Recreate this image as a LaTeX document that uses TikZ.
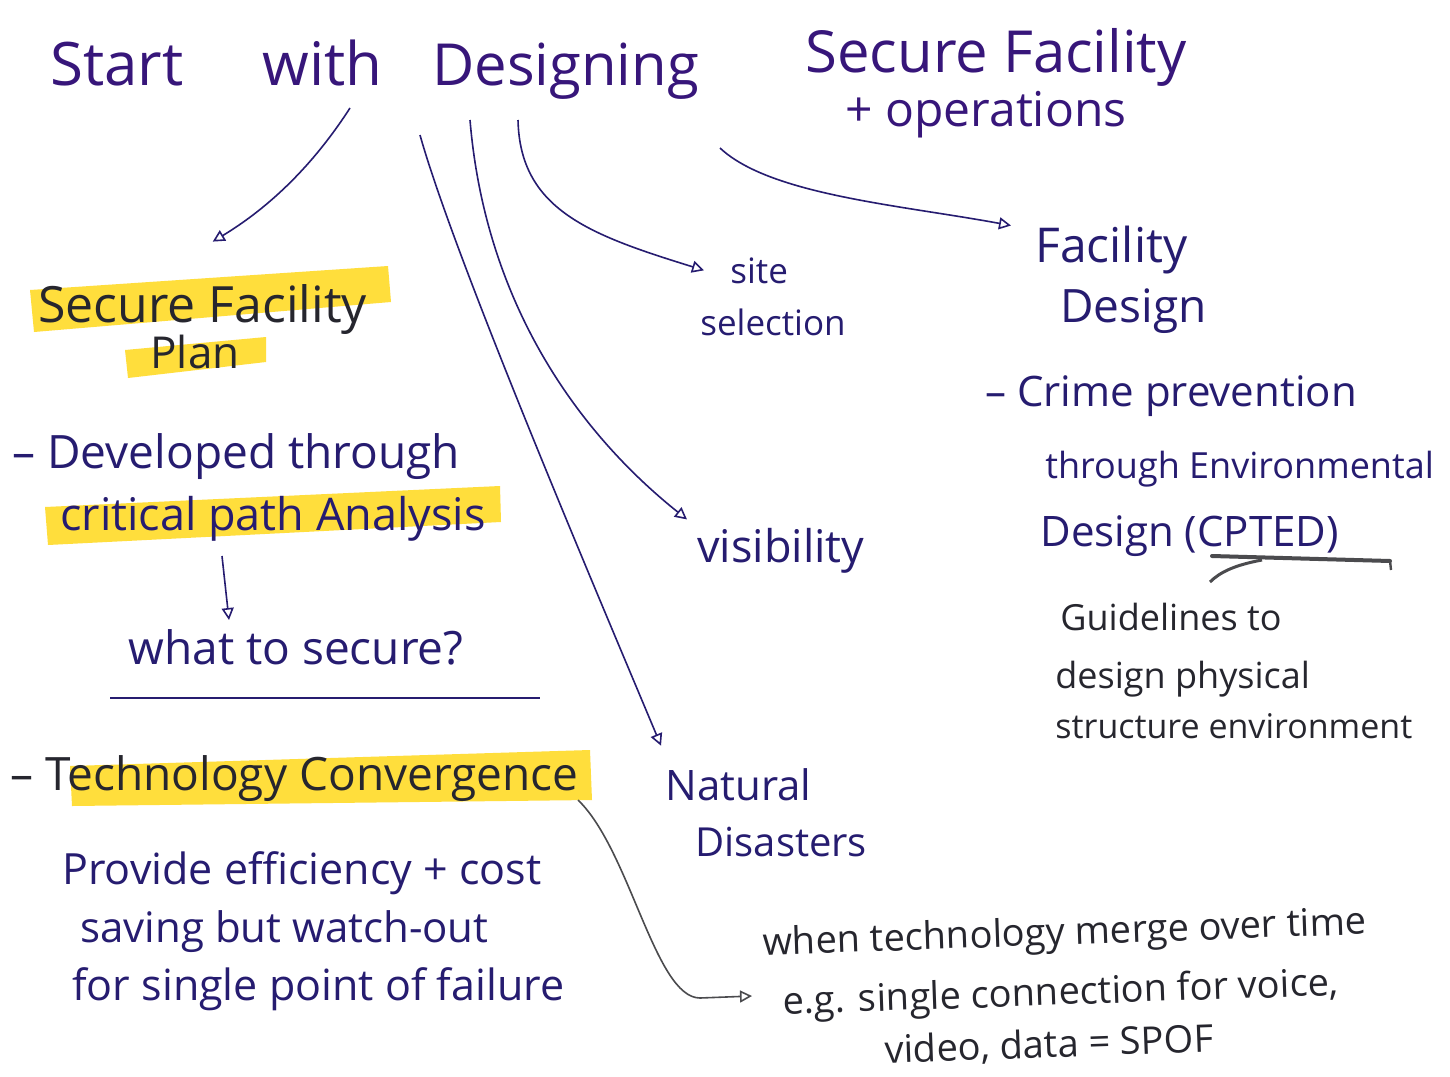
\documentclass[tikz,border=0pt]{standalone}
\usepackage{fontspec}
\setmainfont{Open Sans}
\usetikzlibrary{arrows.meta}

\definecolor{ink}{RGB}{38,28,112}
\definecolor{inkp}{RGB}{55,22,122}
\definecolor{pencil}{RGB}{38,38,46}
\definecolor{hl}{RGB}{255,222,60}
\definecolor{graypen}{RGB}{75,75,78}

\newcommand{\fsz}[1]{\fontsize{#1}{#1}\selectfont}

\tikzset{
  txt/.style={anchor=base west, inner sep=0pt, text=ink},
  dark/.style={txt, text=pencil},
  conn/.style={draw=ink, line width=0.8pt, -{Triangle[open,length=6pt,width=6pt]}},
  grayconn/.style={conn, draw=graypen},
  marker/.style={fill=hl, draw=none},
}

\begin{document}
\begin{tikzpicture}[x=0.5pt, y=-0.5pt]
  % page
  \fill[white] (0,0) rectangle (1450,1076);
  \useasboundingbox (0,0) rectangle (1450,1076);

  % highlighter strokes
  \fill[marker] (30,290) -- (388,266) -- (391,302) -- (34,332) -- cycle;
  \fill[marker] (125,350) -- (266,337) -- (266,362) -- (128,378) -- cycle;
  \fill[marker] (45,507) -- (500,486) -- (501,522) -- (48,545) -- cycle;
  \fill[marker] (70,766) -- (590,750) -- (592,800) -- (72,806) -- cycle;

  % heading
  \node[txt, text=inkp, font=\fsz{30}] (start) at (50,85) {Start};
  \node[txt, text=inkp, font=\fsz{30}] (with) at (262,85) {with};
  \node[txt, text=inkp, font=\fsz{29}] (design) at (432,85) {Designing};
  \node[txt, text=inkp, font=\fsz{29}] (sf) at (805,72) {Secure Facility};
  \node[txt, text=inkp, font=\fsz{24}] (ops) at (845,126) {+ operations};

  % left column
  \node[dark, font=\fsz{25}] (sfp1) at (38,322) {Secure Facility};
  \node[dark, font=\fsz{22}] (sfp2) at (150,368) {Plan};
  \node[txt, font=\fsz{23}] (dev) at (12,468) {– Developed through};
  \node[txt, font=\fsz{22.5}] (crit) at (60,530) {critical path Analysis};
  \node[txt, font=\fsz{23}] (what) at (128,664) {what to secure?};
  \node[dark, font=\fsz{23}] (tech) at (10,790) {– Technology Convergence};
  \node[txt, font=\fsz{21.5}] (prov1) at (62,884) {Provide efficiency + cost};
  \node[txt, font=\fsz{21}] (prov2) at (80,942) {saving but watch-out};
  \node[txt, font=\fsz{21.5}] (prov3) at (72,1000) {for single point of failure};

  % middle column
  \node[txt, font=\fsz{17.5}] (site1) at (730,283) {site};
  \node[txt, font=\fsz{17.5}] (site2) at (700,335) {selection};
  \node[txt, font=\fsz{22.5}] (vis) at (697,562) {visibility};
  \node[txt, font=\fsz{21}] (nat1) at (665,800) {Natural};
  \node[txt, font=\fsz{20}] (nat2) at (695,856) {Disasters};

  % right column
  \node[txt, font=\fsz{24}] (fac1) at (1035,262) {Facility};
  \node[txt, font=\fsz{23}] (fac2) at (1060,322) {Design};
  \node[txt, font=\fsz{21}] (cp1) at (985,406) {– Crime prevention};
  \node[txt, font=\fsz{18}] (cp2) at (1045,478) {through Environmental};
  \node[txt, font=\fsz{21}] (cp3) at (1040,546) {Design (CPTED)};
  \node[dark, font=\fsz{18}] (gd1) at (1060,630) {Guidelines to};
  \node[dark, font=\fsz{18}] (gd2) at (1055,688) {design physical};
  \node[dark, font=\fsz{17}] (gd3) at (1055,738) {structure environment};

  % note at the bottom right, written on a slight upward slant
  \node[anchor=north west, inner sep=0pt, text=pencil, align=left,
        font={\fontsize{19}{30}\selectfont}, rotate=2] (mrg) at (762,926)
    {when technology merge over time\\
     \hspace*{9pt}e.g. single connection for voice,\\[-4pt]
     \hspace*{59pt}video, data = SPOF};

  % start points of the branches under the heading
  \coordinate (b0) at (350,108);
  \coordinate (b1) at (420,135);
  \coordinate (b2) at (470,120);
  \coordinate (b3) at (518,120);
  \coordinate (b4) at (720,148);

  % branches
  \draw[conn] (b0) .. controls (310,170) and (265,210) .. ([xshift=5pt,yshift=21pt]sfp1.north);
  \draw[conn] (b1) .. controls (455,260) and (600,600) .. ([xshift=-2pt,yshift=11pt]nat1.north west);
  \draw[conn] (b2) .. controls (485,300) and (575,430) .. ([xshift=-5pt,yshift=4pt]vis.north west);
  \draw[conn] (b3) .. controls (520,210) and (590,235) .. ([xshift=-13pt]site1.west);
  \draw[conn] (b4) .. controls (770,195) and (900,205) .. ([xshift=-12pt,yshift=12pt]fac1.west);

  % critical path analysis leads to what to secure
  \coordinate (d0) at (222,556);
  \coordinate (d1) at (229,620);
  \draw[conn] (d0) -- (d1);

  % separator
  \draw[ink, line width=1.2pt] (110,698) -- (540,698);

  % CPTED underline
  \draw[graypen, line width=2pt, line cap=round] (1212,556) -- (1390,561);
  \draw[graypen, line width=1.2pt] (1390,561) -- (1391,570);
  \draw[graypen, line width=1.5pt] (1262,560) .. controls (1235,565) and (1220,572) .. (1210,582);

  % technology convergence to the merge note
  \coordinate (t0) at (578,800);
  \coordinate (t1) at (752,996);
  \draw[grayconn] (t0) .. controls (630,850) and (655,998) .. (700,998) -- (t1);
\end{tikzpicture}
\end{document}
